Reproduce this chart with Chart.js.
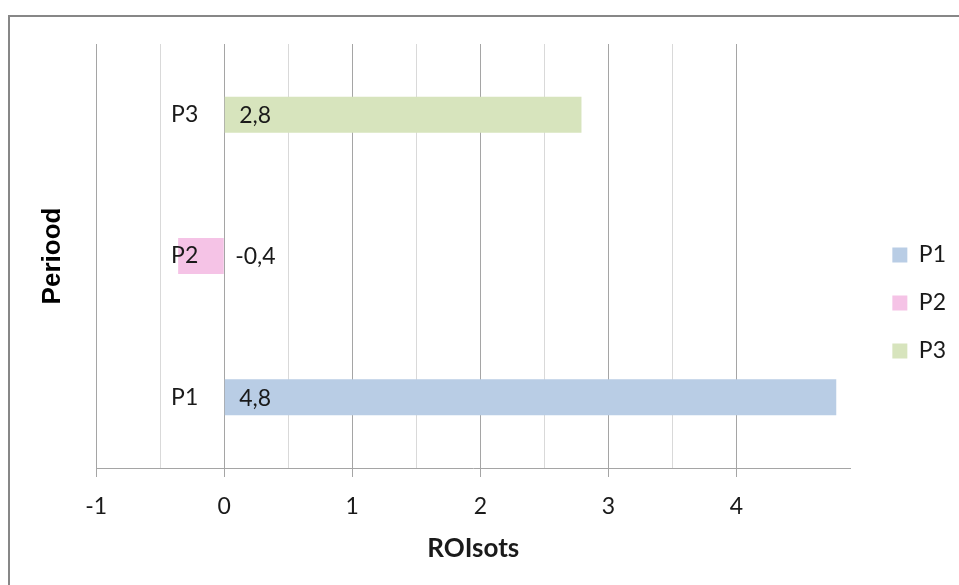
<!DOCTYPE html>
<html>
<head>
<meta charset="utf-8">
<script src="https://cdn.jsdelivr.net/npm/chart.js@4"></script>
<style>
  body { margin: 0; background: #fff; overflow: hidden; }
  #frame { position: absolute; left: 8px; top: 15px; width: 1000px; height: 700px; border: 2px solid #878787; }
  #chart { position: absolute; left: 0; top: 0; }
</style>
</head>
<body>
<div id="frame"></div>
<canvas id="chart" width="959" height="585"></canvas>
<script>
// values
const categories = ['P1', 'P2', 'P3'];
const seriesNames = ['P1', 'P2', 'P3'];
const roiValues = [4.78, -0.36, 2.79];
const seriesColors = ['#b9cde5', '#f5c3e6', '#d7e4bd'];
const xMin = -1;
const xMax = 4.89;
const xStep = 0.5;

const FONT = 'Lato, "Noto Sans", sans-serif';

const datasets = seriesNames.map((name, i) => ({
  label: name,
  data: categories.map((c, j) => (j === i ? roiValues[i] : null)),
  backgroundColor: seriesColors[i],
  borderWidth: 0,
  categoryPercentage: 1,
  barPercentage: 0.255
}));

function gridColor(ctx) {
  const v = ctx.tick.value;
  if (Number.isInteger(v)) return '#a5a5a5';
  if (Number.isInteger(v * 2)) return '#d9d9d9';
  return 'rgba(0,0,0,0)';
}

// category names beside the zero line and value labels at the bar base
const barLabels = {
  id: 'barLabels',
  afterDatasetsDraw(chart) {
    const ctx = chart.ctx;
    const xs = chart.scales.x;
    const ys = chart.scales.y;
    const x0 = xs.getPixelForValue(0);
    ctx.save();
    ctx.font = '23px ' + FONT;
    ctx.fillStyle = '#1a1a1a';
    ctx.textBaseline = 'middle';
    categories.forEach((c, i) => {
      ctx.textAlign = 'right';
      ctx.fillText(c, x0 - 26, ys.getPixelForValue(i));
      const v = roiValues[i];
      ctx.textAlign = 'left';
      ctx.fillText(v.toFixed(1).replace('.', ','), x0 + (v < 0 ? 11 : 15), ys.getPixelForValue(i) + 1);
    });
    ctx.restore();
  }
};

new Chart(document.getElementById('chart').getContext('2d'), {
  type: 'bar',
  data: { labels: categories, datasets: datasets },
  plugins: [barLabels],
  options: {
    responsive: false,
    animation: false,
    indexAxis: 'y',
    layout: { padding: { top: 44, left: 0, right: 3, bottom: 23 } },
    plugins: {
      tooltip: { enabled: false },
      legend: {
        position: 'right',
        align: 'center',
        labels: {
          boxWidth: 15,
          boxHeight: 15,
          padding: 25,
          color: '#1a1a1a',
          font: { family: FONT, size: 23 }
        }
      }
    },
    scales: {
      x: {
        type: 'linear',
        stacked: true,
        min: xMin,
        max: xMax,
        ticks: {
          stepSize: xStep,
          padding: 18,
          color: '#1a1a1a',
          font: { family: FONT, size: 23, lineHeight: 1 },
          maxRotation: 0,
          autoSkip: false,
          callback: v => (Number.isInteger(v) ? String(v) : '')
        },
        grid: {
          color: gridColor,
          tickColor: ctx => (Number.isInteger(ctx.tick.value) ? '#a5a5a5' : 'rgba(0,0,0,0)'),
          tickLength: 9,
          lineWidth: 1
        },
        border: { color: '#a5a5a5', width: 1 },
        title: {
          display: true,
          text: 'ROIsots',
          color: '#1a1a1a',
          font: { family: FONT, size: 26, weight: 'bold', lineHeight: 1 },
          padding: { top: 0, bottom: 0 }
        }
      },
      y: {
        type: 'category',
        stacked: true,
        reverse: true,
        ticks: { display: false },
        grid: { display: false, drawTicks: false },
        border: { display: false },
        title: {
          display: true,
          text: 'Periood',
          color: '#000',
          font: { family: '"Liberation Sans", Arial, sans-serif', size: 26, weight: 'bold', lineHeight: 1.2 },
          padding: { top: 37, bottom: 28 }
        }
      },
      pad: {
        type: 'linear',
        position: 'right',
        display: true,
        ticks: { display: false },
        grid: { display: false, drawTicks: false },
        border: { display: false },
        afterFit: s => { s.width = 17; }
      }
    }
  }
});
</script>
</body>
</html>
